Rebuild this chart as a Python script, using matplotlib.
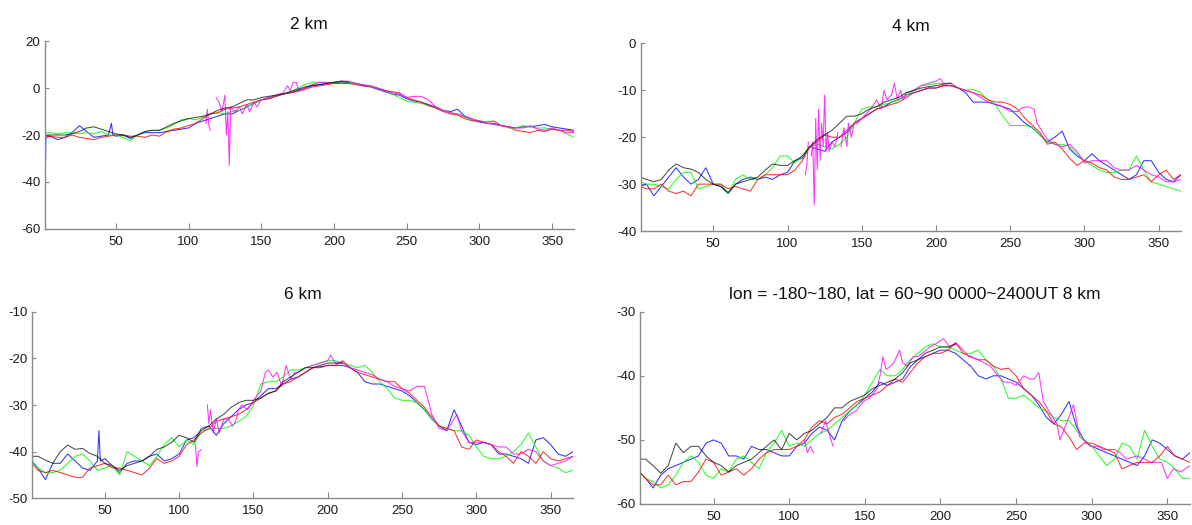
import matplotlib
matplotlib.use("Agg")
import matplotlib.pyplot as plt
import numpy as np

nan = float("nan")

# ---------------- data ----------------
TITLES = ["2 km", "4 km", "6 km", "lon = -180~180, lat = 60~90 0000~2400UT 8 km"]
XTICKS = [50, 100, 150, 200, 250, 300, 350]
YTICKS = [[-60, -40, -20, 0, 20], [-40, -30, -20, -10, 0],
          [-50, -40, -30, -20, -10], [-60, -50, -40, -30]]
YLIMS = [(-60, 20), (-40, 0), (-50, -10), (-60, -30)]

DAYS = [1, 5, 10, 15, 20, 25, 30, 35, 40, 45,
        50, 55, 60, 65, 70, 75, 80, 85, 90, 95,
        100, 105, 110, 115, 120, 125, 130, 135, 140, 145,
        150, 155, 160, 165, 170, 175, 180, 185, 190, 195,
        200, 205, 210, 215, 220, 225, 230, 235, 240, 245,
        250, 255, 260, 265, 270, 275, 280, 285, 290, 295,
        300, 305, 310, 315, 320, 325, 330, 335, 340, 345,
        350, 355, 360, 365]
BLACK_DAYS = DAYS[:43]

# ---- panel 1 : 2 km
P1_BLUE = [-56, -20.5, -22, -21, -19, -16, -18.5, -21, -20.5, -20,
           -20.5, -20, -21.5, -20, -19, -19, -19, -18.5, -18, -17.5,
           -17, -15, -14, -13, -12, -11, -11, -9.5, -8, -6.5,
           -5, -4.5, -3.5, -2.5, -2, -1, 0, 1, 1.5, 2,
           2.5, 3, 2.5, 2, 1, 0.5, -0.5, -1.5, -2.5, -3,
           -4.5, -5.5, -6, -7, -8, -9.5, -10, -9, -12, -13.5,
           -14.5, -15, -15, -16, -16.5, -17, -16.5, -16.5, -16, -15.5,
           -16.5, -17, -17.5, -18]
P1_BLUE_EXTRA = [(2, -21), (47, -15), (48, -20)]
P1_GREEN = [-19, -19, -19.5, -19, -19, -19.5, -19, -19.5, -18.5, -20,
            -20, -21, -22.5, -20, -18.5, -18, -18, -17, -15.5, -13.5,
            -13, -13.5, -12.5, -11, -10.5, -11, -10, -9.5, -8, -6.5,
            -5, -4, -3.5, -2.5, -1.5, 0, 1.5, 2.5, 2.5, 2,
            2.5, 2.5, 2.5, 2, 1.5, 0.5, 0, -1, -2.5, -4,
            -5.5, -6, -6.5, -7.5, -8.5, -9.5, -10.5, -11, -12.5, -13.5,
            -14, -15, -15.5, -16, -17, -17, -16, -16.5, -17, -17,
            -17.5, -18, -19.5, -21]
P1_RED = [-21, -20.5, -21, -21, -20, -21, -21.5, -22, -21, -20.5,
          -20, -20, -20.5, -20.5, -21, -20, -20.5, -18.5, -17.5, -17,
          -16, -15, -13, -11, -10.5, -9, -8.5, -8, -7, -6,
          -5, -4.5, -3.5, -2.5, -2, -1.5, -0.5, 0.5, 1, 1.5,
          2, 2, 2, 1.5, 1, 1, 0, -1, -1.5, -2,
          -4, -5, -6, -7.5, -8.5, -10, -11, -11.5, -13, -14,
          -14, -14.5, -14, -16, -16.5, -18, -18.5, -19, -18, -18.5,
          -17.5, -18, -18, -18.5]
P1_BLACK = [-20, -20, -20, -20, -19.5, -18.5, -17, -16.5, -17.5, -18.5,
            -19.5, -20, -21, -20, -18.5, -18, -18, -16.5, -15, -14,
            -13, -12.5, -12, -11, -9.5, -8.5, -8, -6.5, -5, -5,
            -4, -3.5, -3, -2.5, -1.5, -0.5, 0.5, 1.2, 1.5, 2,
            2.5, 2.8, 2.5]
P1_MAG_DAYS = [112, 113, 114, 115, 117,
               119, 121, 123, 125, 126, 127, 128, 129, 130, 132,
               135, 137, 140, 142, 145, 147, 150, 155, 160, 165,
               168, 170, 172, 174, 176, 180, 185, 190, 195, 200,
               205, 210, 215, 220, 225, 230, 235, 240, 245, 250,
               255, 260, 265, 270, 275, 280, 285, 290, 295, 300,
               305, 310, 315, 320, 325, 330, 335, 340, 345, 350,
               355, 360, 365]
P1_MAG = [-15, -9, -16, -18, nan,
          -4, -6, -10, -3, -20, -10, -33, -8, -9, -10,
          -8, -11, -7, -10, -6, -8, -5, -4, -3, -2,
          1, -1, 2.5, 2.5, -1, 0, 1.5, 2.5, 2.5, 2,
          3, 3, 2, 1.5, 1, 0, -1, -2, -2.5, -4,
          -3.5, -3.5, -5, -8, -9.5, -10.5, -11, -12, -13, -14,
          -15, -15.5, -16, -16.5, -17, -17, -16, -17.5, -18, -17,
          -18, -19, -19]

# ---- panel 2 : 4 km
P2_BLUE = [-30.5, -30, -32.5, -30.5, -28.5, -26.5, -28.5, -30, -29, -26.5,
           -30, -30.5, -32, -30, -29, -28.5, -29, -28.5, -29, -28,
           -27.5, -25, -24.5, -22, -22.5, -23, -21, -20, -19, -17,
           -16, -15, -14, -13.5, -12.5, -12, -11, -10.5, -10, -9.5,
           -9.5, -9, -9, -9.5, -10.5, -12.5, -12.5, -12.5, -13, -13.5,
           -14, -15.5, -17, -18, -19.5, -21, -20, -18.7, -22.5, -24,
           -25, -23.5, -25, -26, -27, -28, -29, -28, -25, -25,
           -27.5, -29, -29.5, -28]
P2_BLUE_EXTRA = []
P2_GREEN = [-29.5, -30, -30, -30.5, -31, -29, -27.5, -27.5, -31, -30.5,
            -30, -30, -32, -29, -28, -29, -29, -28, -26.5, -24,
            -24, -25.5, -24, -22, -21.5, -22, -22.5, -21.5, -20, -17,
            -14, -13.5, -13.5, -13, -12.5, -12, -11, -10, -9, -8.8,
            -8.5, -8.5, -8.5, -9.5, -10, -9.8, -10.5, -12, -13, -15.5,
            -17.5, -17.5, -17.5, -18, -19.5, -21, -21.5, -21.5, -22, -23.5,
            -25, -26, -27, -27.5, -27.5, -27, -27, -24, -27, -29.5,
            -30, -30.5, -31, -31.5]
P2_RED = [-30.5, -31, -31, -30, -31.5, -32, -31.5, -32.5, -30, -30,
          -30, -30, -31, -30.5, -31, -31.5, -29, -28, -28, -28,
          -28, -27, -25, -22, -21, -19.5, -20, -20, -18.5, -17,
          -16, -15, -14, -13.5, -13, -12.5, -11.5, -10.5, -10, -9.5,
          -9.5, -9, -9, -9.5, -10, -10.5, -11, -12, -12.5, -12.5,
          -13, -14, -16, -17.5, -19, -21.5, -21, -22.5, -24.5, -26,
          -25, -25.5, -26.5, -27, -28.5, -29, -29, -28.5, -28, -29.5,
          -28, -27, -29, -28]
P2_BLACK = [-28.5, -29, -29.5, -29, -27, -25.7, -26.5, -26.8, -27.5, -29,
            -30, -30.5, -31.8, -30, -29.5, -29, -28.5, -27, -25.7, -26,
            -26, -25, -24, -22, -20.5, -19.5, -18.5, -17, -15.5, -15.5,
            -15, -14, -13.5, -12.5, -12, -11.5, -10.5, -10, -9.5, -9.2,
            -9, -8.7, -8.5]
P2_MAG_DAYS = [112, 113, 114, 115, 116, 117, 118, 119, 120, 121,
               122, 123, 124, 125, 126, 127, 128, 129, 130,
               132, 134, 135, 136, 138, 140, 141, 143, 145, 147,
               150, 153, 156, 160, 163, 165, 167, 170, 172, 174,
               176, 178, 180, 185, 190, 195, 200, 203, 205, 210,
               215, 220, 225, 230, 235, 240, 245, 250, 255, 258,
               262, 266, 268, 270, 275, 280, 285, 290, 295, 300,
               305, 310, 315, 320, 325, 330, 335, 340, 345, 350,
               355, 360, 365]
P2_MAG = [-28, -26, -21, nan, -24, -21, -34.5, -16, -27, -14,
          -25, -17, -22, -11, -23, -19, -23, -22, -21,
          -22, -19, nan, -22, -18, -22, -17, -20, -17, -17,
          -16, -15, -14, -12, -14, -10, -12, -11, -8.5, -12,
          -10, -12, -10.5, -10, -9, -8.5, -8, -7.5, -8.5, -8.5,
          -9.5, -10, -10.5, -11.5, -12.5, -13, -13.5, -14.5, -14.5, -13.7,
          -13.5, -14, -17, -18, -20.5, -21.5, -22, -21.5, -23, -25.5,
          -25, -25, -25, -26.5, -27, -27, -26, -27, -28, -28.5,
          -29.5, -29.5, -29]

# ---- panel 3 : 6 km
P3_BLUE = [-42, -43.5, -46, -42.5, -42.5, -40.5, -42, -43.5, -44, -42,
           -41.5, -43, -44.5, -42.5, -42, -42, -41, -40.5, -42, -41.5,
           -40.5, -37.5, -37, -35.5, -34.5, -36.5, -34, -32.5, -31, -30,
           -29.5, -28, -26.5, -26.5, -25.5, -24.5, -24, -23, -22, -21.8,
           -21.5, -21.5, -21.5, -22, -23, -25, -25.5, -25.5, -26, -26.5,
           -27, -28, -29.5, -31, -33, -34.5, -35.5, -31, -34.5, -38,
           -38.5, -38, -38.5, -40.5, -40.5, -41, -41.5, -42.5, -37.5, -37,
           -38.5, -40.5, -41, -40]
P3_BLUE_EXTRA = [(46, -35.5), (47, -42)]
P3_GREEN = [-42, -43.5, -44.5, -44.5, -44, -42.5, -41, -40.5, -42, -44,
            -43.5, -43, -45, -40, -41, -42, -43, -41, -38.5, -37,
            -39, -37.5, -38.5, -35.5, -35.2, -35, -35, -34.5, -33.5, -32.5,
            -30, -25.5, -25, -25, -24, -22.5, -22.5, -22, -21.5, -21,
            -20.5, -20.5, -21, -21.5, -22, -21.5, -23, -25, -26.5, -28.5,
            -29, -29, -29.5, -31, -33, -34.5, -35, -35.5, -35.5, -36.5,
            -39, -41, -41.5, -41.5, -41, -40, -38.5, -36, -39, -42,
            -43, -43.5, -44.5, -44]
P3_RED = [-42.5, -44, -44.5, -44, -44.5, -45, -45.5, -45.5, -43.5, -43,
          -42.5, -43.5, -43.5, -44, -44.5, -45, -43.5, -41.5, -42.5, -42,
          -41, -38.5, -37.5, -36, -35, -33.5, -33, -32.5, -32, -31,
          -29.5, -28.5, -27.5, -27, -25.5, -25, -24, -23, -22, -22,
          -21.5, -21.5, -20.5, -22, -23, -23.5, -24, -24.5, -25, -25,
          -26.5, -27.5, -29, -30.5, -32.5, -34.5, -35, -35.5, -39, -39.5,
          -37.5, -38, -38.5, -40, -41, -42.5, -40, -41, -42.5, -40,
          -41.5, -42, -41.5, -41]
P3_BLACK = [-41, -41, -41.8, -42.5, -40, -38.6, -39.5, -39.3, -40.4, -41,
            -42.5, -43, -44, -43, -42.5, -42, -41, -39.5, -39, -38,
            -36.5, -37, -38, -35, -34.5, -33, -32, -30.5, -29.5, -29,
            -29, -28.5, -27.5, -27, -25, -24, -23, -22, -22, -21.5,
            -21, -21, -21]
P3_MAG_DAYS = [111, 112, 113, 115, 116, 119, 120, 121, 123, 125,
               127, 130, 133, 136, 138, 140, 142, 146, 150, 155,
               158, 160, 163, 166, 169, 172, 175, 178, 180, 185,
               190, 195, 200, 202, 205, 210, 215, 220, 225, 230,
               235, 240, 245, 250, 255, 260, 265, 268, 270, 275,
               280, 285, 287, 290, 295, 300, 305, 310, 315, 320,
               325, 330, 335, 340, 345, 350, 355, 360, 365]
P3_MAG = [-38.6, -43.2, -40, -39.6, nan, -30, -34, -31, -36, -33,
          -36, -33, -33, -34.5, -33.5, -31, -30, -31, -29, -27,
          -23, -22.5, -24, -23, -26, -21.5, -24.5, -23, -23, -22,
          -21.5, -21, -20.5, -19.3, -21, -21, -22, -22.5, -23, -23.5,
          -24.5, -25, -26, -26.5, -27, -26, -26, -29.5, -32, -35,
          -35.5, -33, -32, -35.5, -38, -38, -38, -38.5, -39, -39,
          -40.5, -40.5, -39.5, -40, -42, -43, -42.5, -42, -41]

# ---- panel 4 : 8 km
P4_BLUE = [-55, -56, -57.5, -55.5, -54.5, -54, -53.5, -53, -52.5, -50.5,
           -50, -50.5, -52.5, -52.5, -53, -51, -51.5, -51.5, -52, -52.5,
           -52.5, -51, -50.5, -49, -48, -48.5, -50, -47, -45.5, -44.5,
           -43.5, -42.5, -41, -41.5, -41, -40.5, -38.6, -37.5, -37, -36.5,
           -36, -36, -36.5, -37.5, -38.5, -40, -40.5, -40, -40, -40.5,
           -41, -42, -43, -44.5, -46.5, -47.5, -46, -44, -48, -50,
           -51, -51.5, -52, -52.5, -53, -53.5, -54, -52.5, -50, -50.5,
           -51.5, -52.5, -53, -52]
P4_BLUE_EXTRA = []
P4_GREEN = [-55, -56, -56.5, -57.5, -57, -55.5, -53.5, -52.5, -53.5, -55.5,
            -56, -54.5, -55, -53, -52.5, -53.5, -54.5, -52, -50.5, -48.5,
            -51, -50.5, -51, -50, -49, -48.5, -47.5, -46.5, -45.5, -44.5,
            -43, -41, -39, -40, -40, -39, -37.5, -36.5, -35.5, -35,
            -35.5, -35.5, -36, -36.5, -36.5, -36, -37.5, -38.5, -40.5, -43.5,
            -43.5, -43, -44, -45, -45.5, -46.5, -47, -47, -48.5, -50,
            -51, -52.5, -54, -53, -50.5, -51, -53, -48.5, -51, -53,
            -53.5, -54.5, -56, -56]
P4_RED = [-55, -56, -57, -57, -55.5, -57, -56.5, -56.5, -55, -53,
          -53.5, -55.5, -55, -54.5, -55.5, -54.5, -53, -52, -51.5, -51.5,
          -51.5, -51, -50, -48, -47, -47.5, -46.5, -46, -45, -44,
          -43.5, -43, -42.5, -41.5, -40.5, -41, -39.5, -38, -37, -36.5,
          -36.5, -36, -34.8, -36.5, -37, -37.5, -37.5, -38.5, -39, -38.8,
          -40, -42, -43, -44, -45.5, -47.5, -48, -49.5, -51.5, -50.5,
          -50.5, -51, -51.5, -52, -54.5, -54, -53.5, -53.5, -53.5, -52.5,
          -51, -52.5, -53, -53.5]
P4_BLACK = [-53, -53, -54, -55.2, -54, -50.5, -52, -51, -51, -52.5,
            -53.5, -54, -55, -54, -53.5, -53, -52, -51, -50, -51.5,
            -49, -50, -49, -48.5, -47.5, -46.5, -45, -45, -44, -43.5,
            -43, -42, -41.5, -41, -40.5, -39.5, -38, -37.5, -36.5, -36,
            -35.5, -35.5, -35]
P4_MAG_DAYS = [110, 112, 114, 116, 118, 121, 124, 127, 129, 131,
               136, 140, 144, 149, 153, 158, 160, 162, 164, 167,
               169, 171, 173, 175, 178, 182, 185, 188, 193, 197,
               202, 206, 211, 215, 219, 225, 233, 238, 242, 246,
               250, 255, 259, 262, 265, 268, 273, 277, 279, 284,
               288, 292, 299, 304, 308, 315, 319, 323, 330, 335,
               339, 346, 350, 354, 359, 365]
P4_MAG = [-50, -52, -51, -52, nan, -49, -47, -49.5, -51, nan,
          -47, -46, -45.5, -44, -43.5, -42, -40, -37, -39, -38.5,
          -38, -37, -36, -38, -38.5, -37, -37, -36.5, -35.5, -35,
          -34.2, -35.5, -35, -36, -37, -37.5, -38.5, -40, -41, -41,
          -41.5, -40, -40.5, -40.5, -39.5, -44, -46, -47.5, -50, -47,
          -44.5, -49.5, -51, -51, -51.5, -51.5, -52, -53, -52.5, -53,
          -53.5, -53.5, -56, -54.5, -55, -54]

PANEL_DATA = [
    (P1_BLUE, P1_BLUE_EXTRA, P1_GREEN, P1_RED, P1_BLACK, P1_MAG_DAYS, P1_MAG),
    (P2_BLUE, P2_BLUE_EXTRA, P2_GREEN, P2_RED, P2_BLACK, P2_MAG_DAYS, P2_MAG),
    (P3_BLUE, P3_BLUE_EXTRA, P3_GREEN, P3_RED, P3_BLACK, P3_MAG_DAYS, P3_MAG),
    (P4_BLUE, P4_BLUE_EXTRA, P4_GREEN, P4_RED, P4_BLACK, P4_MAG_DAYS, P4_MAG),
]

# ---------------- layout / style ----------------
plt.rcParams["font.family"] = ["Liberation Sans", "DejaVu Sans"]
plt.rcParams["axes.unicode_minus"] = False

W, H = 1192, 525
fig = plt.figure(figsize=(W / 100, H / 100), dpi=100)


def box(l, r, t, b):
    return [l / W, 1 - b / H, (r - l) / W, (b - t) / H]


POSITIONS = [box(44.5, 574, 41.3, 228.7), box(640.5, 1181, 43.5, 231),
             box(32, 573, 311.7, 498.3), box(639.5, 1190, 311.7, 504)]


def series(days, vals, extra=()):
    n = min(len(days), len(vals))
    pts = list(zip(days[:n], vals[:n])) + list(extra)
    pts.sort(key=lambda p: p[0])
    return np.array([p[0] for p in pts], float), np.array([p[1] for p in pts], float)


LW = 0.75
for i in range(4):
    ax = fig.add_axes(POSITIONS[i])
    blue, bextra, green, red, black, mdays, mag = PANEL_DATA[i]
    x, y = series(DAYS, blue, bextra)
    ax.plot(x, y, color="#0000ff", lw=LW, alpha=0.8)
    x, y = series(DAYS, green)
    ax.plot(x, y, color="#00ff00", lw=LW, alpha=0.85)
    x, y = series(DAYS, red)
    ax.plot(x, y, color="#ff0000", lw=LW, alpha=0.8)
    x, y = series(mdays, mag)
    ax.plot(x, y, color="#ff00ff", lw=LW, alpha=0.8)
    x, y = series(BLACK_DAYS, black)
    ax.plot(x, y, color="#000000", lw=LW, alpha=0.7)

    ax.set_xlim(1, 365)
    ax.set_ylim(*YLIMS[i])
    ax.set_xticks(XTICKS)
    ax.set_yticks(YTICKS[i])
    ax.set_yticklabels([str(v) for v in YTICKS[i]])
    for s in ("top", "right"):
        ax.spines[s].set_visible(False)
    for s in ("left", "bottom"):
        ax.spines[s].set_color("#8a8a8a")
        ax.spines[s].set_linewidth(1.0)
    ax.tick_params(axis="x", direction="in", length=4.5, width=0.8,
                   color="#8a8a8a", labelsize=9.5, labelcolor="#1a1a1a", pad=5)
    ax.tick_params(axis="y", direction="in", length=3, width=0.8,
                   color="#8a8a8a", labelsize=9.5, labelcolor="#1a1a1a", pad=3)
    ax.set_title(TITLES[i], fontsize=12.5, pad=9, color="#111111")

fig.savefig("out.png", dpi=100)
